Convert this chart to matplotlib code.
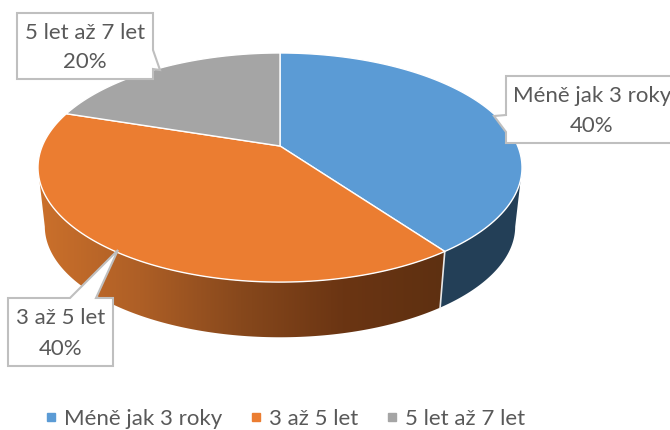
import numpy as np
import matplotlib
matplotlib.use('Agg')
import matplotlib.pyplot as plt
from matplotlib.colors import LinearSegmentedColormap
from matplotlib.lines import Line2D
from matplotlib.patches import Polygon

plt.rcParams['font.family'] = ['Lato', 'DejaVu Sans']

categories = ['Méně jak 3 roky', '3 až 5 let', '5 let až 7 let']
values = [40, 40, 20]
percent_labels = ['40%', '40%', '20%']
colors = ['#5B9BD5', '#EB7D31', '#A5A5A5']

TEXT = '#595959'
BORDER = '#BFBFBF'

fig = plt.figure(figsize=(6.7, 4.3), dpi=100)
ax = fig.add_axes([0, 0, 1, 1])


# circle -> screen, with perspective so the apex sits above the ellipse middle
def project(theta, cy, b=237.7, a=110.5):
    u = np.sin(theta)
    v = -np.cos(theta)
    w = 1 - 0.188 * v
    return 280 + b * u / w, cy + a * v / w


def arc(t0, t1, cy, b=237.7, a=110.5):
    t = np.radians(np.linspace(t0, t1, 120))
    x, y = project(t, cy, b, a)
    return np.column_stack([x, y])


def side_poly(t0, t1):
    return np.vstack([arc(t0, t1, 146), arc(t0, t1, 205.5, 231, 107)[::-1]])


edges = np.cumsum([0] + values) / sum(values) * 360

# sides, only the part that faces the viewer
side_blue = Polygon(side_poly(101, edges[1]), closed=True, fc='#233F57', ec='none', zorder=1)
ax.add_patch(side_blue)

side_orange = Polygon(side_poly(edges[1], 259), closed=True, fc='none', ec='none', zorder=2)
ax.add_patch(side_orange)
grad = LinearSegmentedColormap.from_list('side', ['#CB702B', '#AE5F26', '#87481C', '#6B3513', '#5E3011'])
img = ax.imshow(np.linspace(0, 1, 256).reshape(1, -1), cmap=grad, extent=[38, 444, 345, 160],
                aspect='auto', zorder=2)
img.set_clip_path(side_orange)

seam = np.array([project(np.radians(edges[1]), 146), project(np.radians(edges[1]), 205.5, 231, 107)])
ax.plot(seam[:, 0], seam[:, 1], color='#E8E8E8', lw=1.2, zorder=3)

# top surface
apex = np.array([[280, 146]])
for i in range(len(values)):
    pts = np.vstack([apex, arc(edges[i], edges[i + 1], 146)])
    ax.add_patch(Polygon(pts, closed=True, fc=colors[i], ec='white', lw=1.0, zorder=4, joinstyle='round'))

# callouts
boxes = [
    [(506, 76), (672, 76), (672, 143), (506, 143), (506, 132), (494, 116), (506, 115)],
    [(8, 298), (70, 298), (118, 250), (96, 298), (113, 298), (113, 366), (8, 366)],
    [(17, 13), (153, 13), (153, 50), (160, 70), (153, 69), (153, 79), (17, 79)],
]
label_pos = [(592, 96, 126), (61, 318, 349), (85, 33, 62)]
for i, box in enumerate(boxes):
    ax.add_patch(Polygon(box, closed=True, fc='white', ec=BORDER, lw=1.5, zorder=5))
    lx, ly1, ly2 = label_pos[i]
    ax.text(lx, ly1, categories[i], ha='center', va='center', fontsize=16, color=TEXT, zorder=6)
    ax.text(lx, ly2, percent_labels[i], ha='center', va='center', fontsize=16, color=TEXT, zorder=6)

handles = [Line2D([], [], ls='none', marker='s', ms=5.5, color=c) for c in colors]
ax.legend(handles, categories, loc='center', bbox_to_anchor=(285.5, 419), bbox_transform=ax.transData,
          ncol=3, frameon=False, fontsize=16, labelcolor=TEXT, handlelength=0.5, handletextpad=0.35,
          columnspacing=1.25, borderpad=0)

ax.set_xlim(0, 670)
ax.set_ylim(430, 0)
ax.axis('off')

fig.savefig('out.png', dpi=100)
